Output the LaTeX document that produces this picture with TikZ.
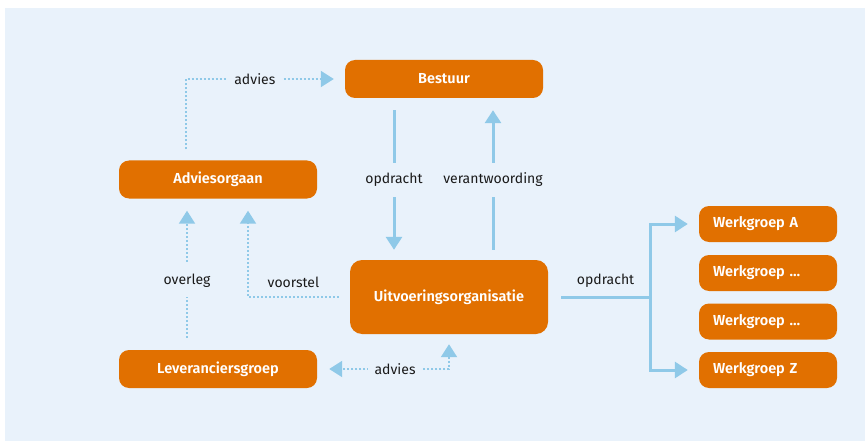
\documentclass[tikz,border=0pt]{standalone}
\usepackage{fontspec}
\setmainfont{Fira Sans}[BoldFont={Fira Sans SemiBold}]
\usetikzlibrary{arrows.meta}

\definecolor{roorange}{HTML}{E17000}
\definecolor{roblue}{HTML}{8FC9E8}
\definecolor{bgblue}{HTML}{E9F2FB}
\definecolor{lblgray}{HTML}{1A1A1A}

\newcommand{\boxfnt}{\fontsize{14.5pt}{16pt}\selectfont\bfseries}
\newcommand{\lblfnt}{\fontsize{14pt}{16pt}\selectfont}

\tikzset{
  orgbox/.style={fill=roorange, text=white, font=\boxfnt, rounded corners=10pt,
    minimum width=198pt, minimum height=38pt, inner sep=0pt},
  wgbox/.style={orgbox, minimum width=0pt, text width=110pt, align=left,
    inner xsep=14pt, minimum height=36pt},
  flow/.style={draw=roblue, line width=3pt, -{Triangle[width=16pt,length=13pt]}},
  dotflow/.style={flow, line width=2pt, dash pattern=on 2pt off 2pt},
  lbl/.style={font=\lblfnt, text=lblgray},
  gaplbl/.style={lbl, fill=bgblue, inner xsep=7pt, inner ysep=10pt}
}

\begin{document}
\begin{tikzpicture}[x=1pt, y=-1pt]

    \fill[white] (0,0) rectangle (865,441);
    \fill[bgblue] (5,8) rectangle (865,441);

    \node[orgbox] (bestuur) at (444, 79) {Bestuur};
    \node[orgbox] (advies) at (218, 179.5) {Adviesorgaan};
    \node[orgbox, minimum height=74pt, rounded corners=12pt] (uitv) at (449, 297) {Uitvoeringsorganisatie};
    \node[orgbox] (lever) at (218, 369) {Leveranciersgroep};

    \node[wgbox] (wgA) at (768, 224) {Werkgroep A};
    \node[wgbox] (wgB) at (768, 273) {Werkgroep \dots};
    \node[wgbox] (wgC) at (768, 321.5) {Werkgroep \dots};
    \node[wgbox] (wgZ) at (768, 370) {Werkgroep Z};

    \coordinate (split) at (650, 297);

    \draw [flow] ([xshift=-50pt, yshift=-12pt]bestuur.south) to node[gaplbl] {opdracht} ([xshift=-55pt, yshift=10pt]uitv.north);
    \draw [flow] ([xshift=44pt, yshift=10pt]uitv.north) to node[gaplbl] {verantwoording} ([xshift=49pt, yshift=-12pt]bestuur.south);
    \draw [dotflow] ([xshift=-32pt, yshift=11pt]advies.north) |- node[gaplbl, pos=0.733] {advies} ([xshift=-11pt]bestuur.west);
    \draw [dotflow] ([xshift=-31pt, yshift=12pt]lever.north) to node[gaplbl, pos=0.45] {overleg} ([xshift=-31pt, yshift=-12pt]advies.south);
    \draw [dotflow] ([xshift=-11pt]uitv.west) -| node[lbl, above=5pt, pos=0.25] {voorstel} ([xshift=30pt, yshift=-12pt]advies.south);
    \draw [dotflow, {Triangle[width=16pt,length=13pt]}-{Triangle[width=16pt,length=13pt]}] ([yshift=-10pt]uitv.south) |- node[gaplbl, pos=0.725] {advies} ([xshift=12pt]lever.east);

    \draw [flow, -] ([xshift=13pt]uitv.east) to node[lbl, above=5pt] {opdracht} (split);
    \draw [flow] (split) |- ([xshift=-11pt]wgA.west);
    \draw [flow] (split) |- ([xshift=-11pt]wgZ.west);

\end{tikzpicture}
\end{document}
